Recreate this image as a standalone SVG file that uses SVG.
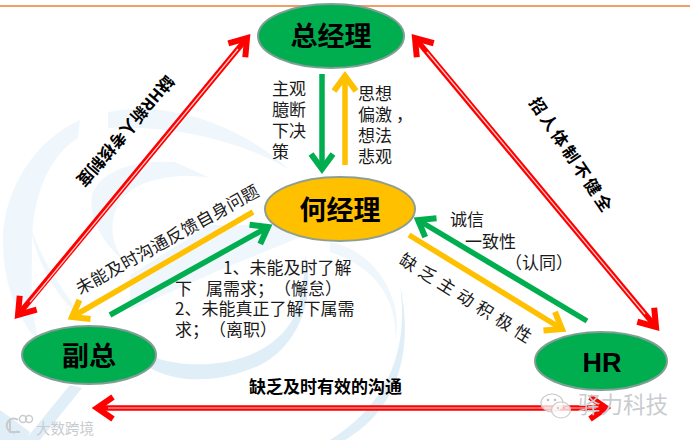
<svg xmlns="http://www.w3.org/2000/svg" width="690" height="440" viewBox="0 0 690 440">
<style>
text{font-family:"Noto Sans CJK SC","Liberation Sans",sans-serif;fill:#1a1a1a;text-spacing-trim:space-all}
.t{font-size:17px}
.n{font-size:27px;font-weight:700;text-anchor:middle;fill:#000}
.b{font-size:16.5px;font-weight:700;fill:#000}
.g{fill:#00ae50;stroke:#7f9f95;stroke-width:2}
.y{fill:#ffc000;stroke:#8f9f8f;stroke-width:2}
.r{fill:none;stroke:#f00;stroke-width:5.5}
.w{fill:none;stroke:#ffd0d0;stroke-width:1.2}
.ag{fill:none;stroke:#00ae50;stroke-width:5.5;marker-end:url(#mg)}
.ay{fill:none;stroke:#ffc000;stroke-width:5.5;marker-end:url(#my)}
.s{fill:#f0f7fc}
.s2{fill:#e0eef8}
.wm{fill:#c8ccd0;font-size:22.5px}
</style>
<defs>
<marker id="mg" markerUnits="userSpaceOnUse" markerWidth="30" markerHeight="30" refX="23" refY="15" orient="auto" overflow="visible"><path d="M8 4L23 15L8 26" fill="none" stroke="#00ae50" stroke-width="6"/></marker>
<marker id="my" markerUnits="userSpaceOnUse" markerWidth="30" markerHeight="30" refX="23" refY="15" orient="auto" overflow="visible"><path d="M8 4L23 15L8 26" fill="none" stroke="#ffc000" stroke-width="6"/></marker>
<marker id="mr" markerUnits="userSpaceOnUse" markerWidth="30" markerHeight="30" refX="23" refY="15" orient="auto" overflow="visible"><path d="M7 4L23 15L7 26" fill="none" stroke="#f00" stroke-width="6"/></marker>
<marker id="ms" markerUnits="userSpaceOnUse" markerWidth="30" markerHeight="30" refX="7" refY="15" orient="auto" overflow="visible"><path d="M23 4L7 15L23 26" fill="none" stroke="#f00" stroke-width="6"/></marker>
</defs>
<rect width="690" height="440" fill="#fff"/>
<g id="background">
<path class="s" d="M80 120C35 140 3 190 3 240C3 290 20 320 40 345C30 310 32 290 32 245C32 195 50 155 78 138Z"/>
<path class="s" d="M108 112C170 100 240 125 290 170C240 140 170 125 108 128Z"/>
<path class="s" d="M92 195C100 170 135 160 175 162L210 178C175 172 130 180 118 205C108 225 112 245 125 262C105 245 88 220 92 195Z"/>
<path class="s" d="M30 225C38 270 60 300 85 322C60 285 42 262 30 225Z"/>
<path class="s" d="M130 275L210 225L330 225L220 270L130 310Z"/>
<path class="s2" d="M156 358C200 372 270 365 295 315C302 295 305 275 305 255C316 295 300 345 260 365C225 382 180 385 150 368Z"/>
<path class="s2" d="M70 385L82 388L40 440L25 440Z"/>
<path class="s2" d="M0 410L30 432L26 440L0 440Z"/>
<path class="s2" d="M400 285C408 340 395 400 330 440L345 440C405 405 412 340 400 285Z"/>
<path class="s" d="M330 242C375 250 405 300 395 340C398 295 370 265 330 252Z"/>
</g>
<path fill="none" stroke="#ed7d31" stroke-width="1.5" d="M0 6H690"/>
<g id="connectors">
<path class="r" d="M18 315L247 38" marker-end="url(#mr)" marker-start="url(#ms)"/>
<path class="w" d="M30 302L238 49"/>
<path class="r" d="M415 38L656 327" marker-end="url(#mr)" marker-start="url(#ms)"/>
<path class="w" d="M427 52L645 314"/>
<path class="r" d="M97 408H606" marker-end="url(#mr)" marker-start="url(#ms)"/>
<path class="w" d="M108 408H596"/>
<path class="ag" d="M322 74V169"/>
<path class="ay" d="M345 165V76"/>
<path class="ag" d="M110 315L268 227"/>
<path class="ay" d="M253 212L72 317"/>
<path class="ag" d="M587 321L418 220"/>
<path class="ay" d="M409 235L562 329"/>
</g>
<g id="n-gm"><ellipse class="g" cx="331" cy="36" rx="73" ry="32"/><text class="n" x="331" y="46">总经理</text></g>
<g id="n-he"><ellipse class="y" cx="340" cy="209" rx="75" ry="32"/><text class="n" x="340" y="220">何经理</text></g>
<g id="n-vp"><ellipse class="g" cx="89" cy="355" rx="67" ry="29"/><text class="n" x="89" y="366">副总</text></g>
<g id="n-hr"><ellipse class="g" cx="601" cy="361" rx="66" ry="29"/><text class="n" x="602" y="372" style="font-family:'Liberation Sans',sans-serif">HR</text></g>
<g id="labels">
<text class="t" x="272" y="95">主观</text><text class="t" x="272" y="116">臆断</text><text class="t" x="272" y="137">下决</text><text class="t" x="272" y="158">策</text>
<text class="t" x="358" y="100">思想</text><text class="t" x="358" y="121">偏激</text><text class="t" x="396" y="121">，</text><text class="t" x="358" y="142">想法</text><text class="t" x="358" y="163">悲观</text>
<text class="b" transform="translate(166 74) rotate(130.5)">缺HR新人考核制度</text>
<text class="b" transform="translate(528.5 102.5) rotate(56)" letter-spacing="3">招人体制不健全</text>
<text class="t" transform="translate(80 295) rotate(-29)" letter-spacing=".2">未能及时沟通反馈自身问题</text>
<text class="t" x="223" y="274">1、未能及时了解</text>
<text class="t" x="175" y="295">下</text>
<text class="t" x="206" y="295">属需求；（懈怠）</text>
<text class="t" x="175" y="315">2、未能真正了解下属需</text>
<text class="t" x="175" y="336">求；（离职）</text>
<text class="t" x="450" y="226">诚信</text>
<text class="t" x="465" y="248">一致性</text>
<text class="t" x="505" y="269">（认同）</text>
<text class="t" transform="translate(398 263) rotate(32)" letter-spacing="5.5">缺乏主动积极性</text>
<text class="b" x="249" y="393" style="font-size:17px">缺乏及时有效的沟通</text>
</g>
<g id="watermarks">
<text class="wm" x="36" y="434" style="font-size:14.5px">大数跨境</text>
<path fill="none" stroke="#c8ccd0" stroke-width="2" d="M10 420V432H20M18 420A7 7 0 1 0 18 431"/>
<circle cx="23" cy="419" r="3.5" fill="none" stroke="#c8ccd0" stroke-width="1.5"/><circle cx="29" cy="419" r="3.5" fill="none" stroke="#c8ccd0" stroke-width="1.5"/>
<text class="wm" x="578" y="413">驿力科技</text>
<g fill="#ffffff" fill-opacity=".75" stroke="#c8c8c8" stroke-width="1.2">
<ellipse cx="552" cy="403" rx="11" ry="9"/><ellipse cx="561" cy="410" rx="9.5" ry="8"/></g>
<g fill="#c0c0c0"><circle cx="548" cy="400" r="1.3"/><circle cx="555" cy="400" r="1.3"/><circle cx="558" cy="408" r="1.1"/><circle cx="564" cy="408" r="1.1"/></g>
</g>
</svg>
